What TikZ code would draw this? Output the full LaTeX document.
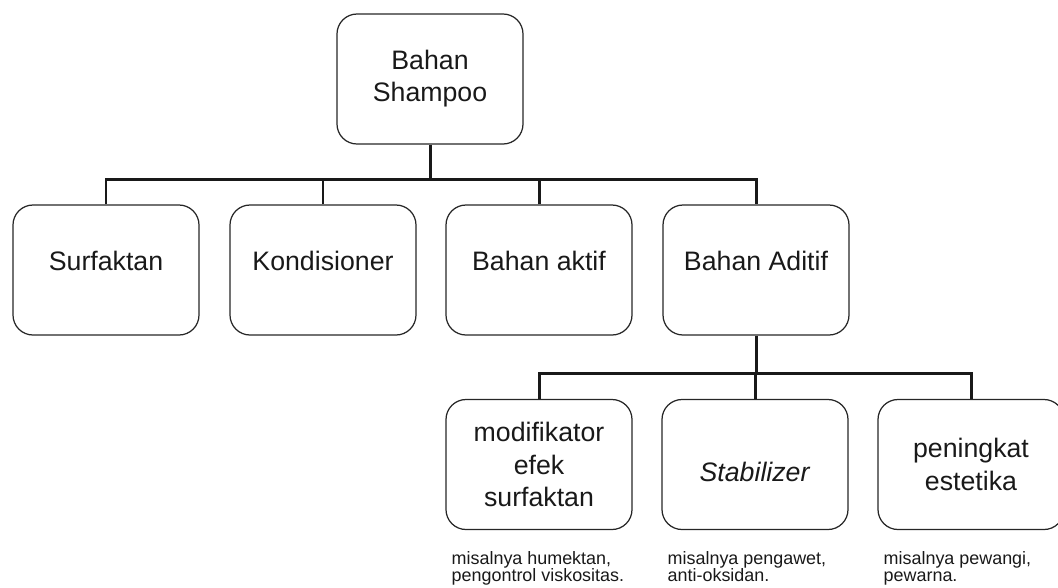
\documentclass[tikz,border=0pt]{standalone}
\usepackage{fontspec}
\setmainfont{Liberation Sans}
\usepackage{tikz}
\usetikzlibrary{positioning,calc}

\begin{document}
\begin{tikzpicture}[
  box/.style={draw=black!85, line width=0.7pt, rounded corners=0.4cm, align=center,
              font=\fontsize{15.2}{18.3}\selectfont, text=black!90,
              minimum height=2.6cm, minimum width=3.72cm, inner sep=2pt},
  up/.style={text depth=0.36cm},
  note/.style={anchor=north west, align=left, inner sep=0pt,
               font=\fontsize{10.2}{9.6}\selectfont, text=black!90},
  ln/.style={line width=1.7pt, black!90}]
\useasboundingbox (0,0) rectangle (21.16,-11.74);
% root and first level
\node[box] (root) at (8.6,-1.58)  {Bahan\\Shampoo};
\node[box,up] (sur) at (2.12,-5.4)  {Surfaktan};
\node[box,up] (kon) at (6.46,-5.4)  {Kondisioner};
\node[box,up] (akt) at (10.78,-5.4) {Bahan aktif};
\node[box,up] (adt) at (15.12,-5.4) {Bahan Aditif};
% second level
\node[box] (mod)  at (10.78,-9.29) {modifikator\\efek\\surfaktan};
\node[box,text height=0.7cm] (stb) at (15.1,-9.29) {\textit{Stabilizer}};
\node[box] (pen)  at (19.42,-9.29) {peningkat\\estetika};
% notes under the boxes
\node[note] (nmod) at ($(mod.south west)+(0.12,-0.42)$) {misalnya humektan,\\pengontrol viskositas.};
\node[note] (nstb) at ($(stb.south west)+(0.12,-0.42)$) {misalnya pengawet,\\anti-oksidan.};
\node[note] (npen) at ($(pen.south west)+(0.12,-0.42)$) {misalnya pewangi,\\pewarna.};
% connectors
\coordinate (bus1) at (8.6,-3.58);
\coordinate (bus2) at (15.12,-7.46);
\draw[ln] (root.south) -- (root.south |- bus1);
\draw[ln] (sur.north) |- (adt.north |- bus1) -- (adt.north);
\draw[ln] (kon.north) -- (kon.north |- bus1);
\draw[ln] (akt.north) -- (akt.north |- bus1);
\draw[ln] (adt.south) -- (adt.south |- bus2);
\draw[ln] (mod.north) |- (pen.north |- bus2) -- (pen.north);
\draw[ln] (stb.north) -- (stb.north |- bus2);
\end{tikzpicture}
\end{document}
